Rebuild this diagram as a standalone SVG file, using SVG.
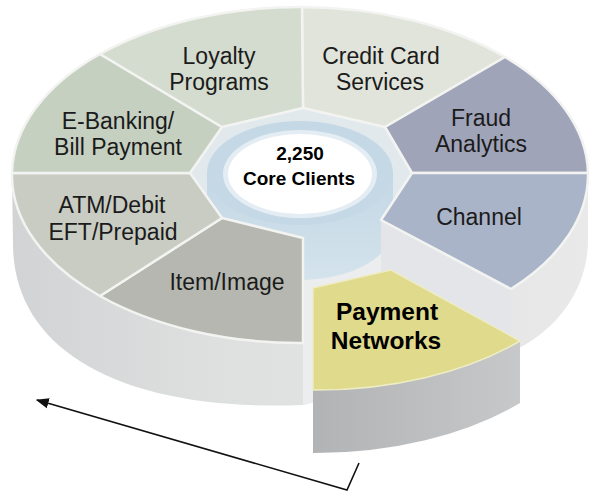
<svg xmlns="http://www.w3.org/2000/svg" width="594" height="494" viewBox="0 0 594 494">
<defs>
<linearGradient id="wallG" x1="0" y1="0" x2="1" y2="0">
<stop offset="0" stop-color="#d2d3d4"/><stop offset="0.35" stop-color="#dedfdf"/><stop offset="1" stop-color="#e9e9ea"/>
</linearGradient>
<linearGradient id="hubG" x1="0" y1="0" x2="0" y2="1">
<stop offset="0" stop-color="#c3d7e5"/><stop offset="1" stop-color="#d4e3ec"/>
</linearGradient>
<linearGradient id="paySide" x1="0" y1="0" x2="1" y2="0">
<stop offset="0" stop-color="#b2b3b5"/><stop offset="1" stop-color="#c7c8ca"/>
</linearGradient>
<marker id="ah" viewBox="0 0 10 10" refX="9" refY="5" markerWidth="13" markerHeight="13" markerUnits="userSpaceOnUse" orient="auto"><path d="M0,1 L10,5 L0,9 z" fill="#111"/></marker>
</defs>
<style>
.lbl{font-family:"Liberation Sans",Arial,sans-serif;font-size:23px;fill:#1b1b1b;text-anchor:middle}
.hub{font-weight:bold;font-size:19px;fill:#000}
.pay{font-weight:bold;font-size:24.5px;fill:#000}
.sec{stroke:#f3f4f2;stroke-width:2.5;stroke-linejoin:round}
</style>
<rect width="594" height="494" fill="#fff"/>
<g id="ring-base">
<path d="M12,173 L13,245 C14,350 120,412 303,405 L511,352 C550,335 588,295 588,240 L588,173 Z" fill="url(#wallG)"/>
<path d="M303,238 L381,220 L511,289 L511,352 L303,405 Z" fill="#ecedee"/>
<path d="M303,108 L385,127 L412,173 L381,220 L303,238 L222,218 L190,173 L222,127 Z" fill="#e2e9ed"/>
<path d="M207,173 L207,228 A93,52 0 0 0 393,228 L393,173 Z" fill="url(#hubG)"/>
<path d="M381,220 L511,289 L511,350 L381,282 Z" fill="#e4e5e8"/>
</g>
<g id="credit-card">
<path class="sec" d="M303,108 L302,7 A288,168 0 0 1 505,57 L385,127 Z" fill="#e1e4da"/>
<text class="lbl" x="381" y="64">Credit Card</text>
<text class="lbl" x="380" y="90">Services</text>
</g>
<g id="fraud">
<path class="sec" d="M385,127 L505,57 A288,168 0 0 1 588,173 L412,173 Z" fill="#a0a4b9"/>
<text class="lbl" x="481" y="126">Fraud</text>
<text class="lbl" x="481" y="152">Analytics</text>
</g>
<g id="channel">
<path class="sec" d="M412,173 L588,173 A288,168 0 0 1 511,289 L381,220 Z" fill="#aab4c9"/>
<text class="lbl" x="479" y="225">Channel</text>
</g>
<g id="item-image">
<path class="sec" d="M303,238 L303,343 A288,168 0 0 1 100,296 L222,218 Z" fill="#b5b7b0"/>
<text class="lbl" x="227" y="290">Item/Image</text>
</g>
<g id="atm-debit">
<path class="sec" d="M222,218 L100,296 A288,168 0 0 1 12,173 L190,173 Z" fill="#c8ccc3"/>
<text class="lbl" x="112" y="213">ATM/Debit</text>
<text class="lbl" x="113" y="240">EFT/Prepaid</text>
</g>
<g id="e-banking">
<path class="sec" d="M190,173 L12,173 A288,168 0 0 1 100,54 L222,127 Z" fill="#c6d0c1"/>
<text class="lbl" x="118" y="129">E-Banking/</text>
<text class="lbl" x="118" y="155">Bill Payment</text>
</g>
<g id="loyalty">
<path class="sec" d="M222,127 L100,54 A288,168 0 0 1 302,7 L303,108 Z" fill="#d4dccf"/>
<text class="lbl" x="219" y="64">Loyalty</text>
<text class="lbl" x="219" y="90">Programs</text>
</g>
<g id="core-clients">
<ellipse cx="300" cy="173" rx="93" ry="52" fill="#c5d8e6"/>
<ellipse cx="300" cy="174" rx="77" ry="44" fill="#e4edf3"/>
<ellipse cx="300" cy="174" rx="72" ry="40" fill="#ffffff"/>
<text class="lbl hub" x="300" y="160">2,250</text>
<text class="lbl hub" x="299" y="185">Core Clients</text>
</g>
<g id="payment-networks">
<path d="M520,341 A288,168 0 0 1 313,390 L313,453 A288,168 0 0 0 520,403 Z" fill="url(#paySide)"/>
<path d="M313,288 L391,270 L520,341 A288,168 0 0 1 313,390 Z" fill="#e0da8c" stroke="#eeecc4" stroke-width="1.5"/>
<text class="lbl pay" x="387" y="320">Payment</text>
<text class="lbl pay" x="386" y="349">Networks</text>
</g>
<g id="connectors">
<path d="M359,463 L347,490 L37,400" fill="none" stroke="#111" stroke-width="1.6" marker-end="url(#ah)"/>
</g>
</svg>
